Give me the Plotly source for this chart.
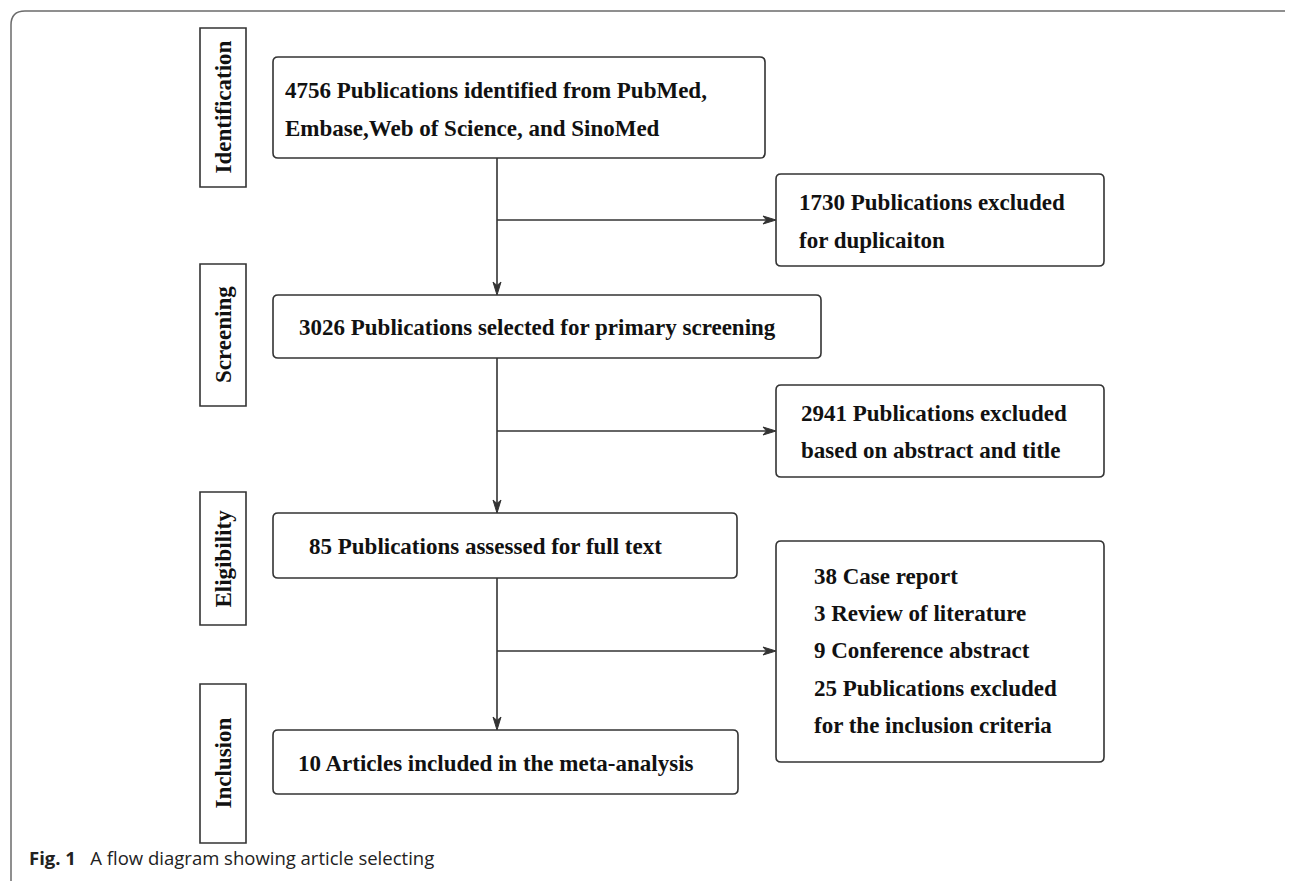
import plotly.graph_objects as go

# ---------------- data (texts / counts) ----------------
stages = ["Identification", "Screening", "Eligibility", "Inclusion"]
identified_n = 4756
duplicates_n = 1730
screened_n = 3026
excl_abstract_n = 2941
fulltext_n = 85
case_report_n = 38
review_n = 3
conference_n = 9
excl_criteria_n = 25
included_n = 10

box_texts = [
    [f"{identified_n} Publications identified from PubMed,", "Embase,Web of Science, and SinoMed"],
    [f"{duplicates_n} Publications excluded", "for duplicaiton"],
    [f"{screened_n} Publications selected for primary screening"],
    [f"{excl_abstract_n} Publications excluded", "based on abstract and title"],
    [f"{fulltext_n} Publications assessed for full text"],
    [f"{case_report_n} Case report", f"{review_n} Review of literature",
     f"{conference_n} Conference abstract", f"{excl_criteria_n} Publications excluded",
     "for the inclusion criteria"],
    [f"{included_n} Articles included in the meta-analysis"],
]
caption_bold = "Fig. 1"
caption_text = "A flow diagram showing article selecting"

# ---------------- layout geometry (screen pixels) ----------------
W, H = 1293, 881
OFF = 8  # page body margin: shift the coordinate frame so data px == screen px
box_geom = [
    (273, 57, 765, 158),
    (776, 174, 1104, 266),
    (273, 295, 821, 358),
    (776, 385, 1104, 477),
    (273, 513, 737, 578),
    (776, 541, 1104, 762),
    (273, 730, 738, 794),
]
text_x = [283, 797, 297, 799, 307, 812, 296]
text_y = [[90, 128], [202, 240], [327], [413, 450], [546], [576, 613, 650, 688, 725], [763]]
stage_geom = [(200, 28, 246, 187), (200, 264, 246, 406), (200, 492, 246, 625), (200, 684, 246, 843)]
spine_x = 497
branch_y = [220, 431, 651]
branch_x1 = 776

LINE = "#333333"
FONT_SERIF = "Liberation Serif, Times New Roman, serif"
FS = 23


def rounded_path(x0, y0, x1, y1, r):
    return (f"M{x0+r},{y0} L{x1-r},{y0} Q{x1},{y0} {x1},{y0+r} L{x1},{y1-r} "
            f"Q{x1},{y1} {x1-r},{y1} L{x0+r},{y1} Q{x0},{y1} {x0},{y1-r} "
            f"L{x0},{y0+r} Q{x0},{y0} {x0+r},{y0} Z")


shapes = []
annotations = []

# outer frame
shapes.append(dict(type="path", xref="x", yref="y",
                   path=rounded_path(11, 11, 1299, 900, 14),
                   line=dict(color="#6b6b6b", width=1.5), fillcolor="rgba(0,0,0,0)", layer="below"))

# main boxes
for (x0, y0, x1, y1) in box_geom:
    shapes.append(dict(type="path", xref="x", yref="y", path=rounded_path(x0, y0, x1, y1, 5),
                       line=dict(color=LINE, width=1.6), fillcolor="white"))

# stage boxes
for (x0, y0, x1, y1), name in zip(stage_geom, stages):
    shapes.append(dict(type="rect", xref="x", yref="y", x0=x0, y0=y0, x1=x1, y1=y1,
                       line=dict(color=LINE, width=1.6), fillcolor="rgba(0,0,0,0)"))
    annotations.append(dict(x=(x0 + x1) / 2, y=(y0 + y1) / 2, xref="x", yref="y",
                            text=f"<b>{name}</b>", showarrow=False, textangle=-90,
                            font=dict(family=FONT_SERIF, size=FS, color="#111111"),
                            xanchor="center", yanchor="middle"))

# box texts
for lines, tx, tys in zip(box_texts, text_x, text_y):
    for line, ty in zip(lines, tys):
        annotations.append(dict(x=tx, y=ty, xref="x", yref="y", text=f"<b>{line}</b>",
                                showarrow=False, xanchor="left", yanchor="middle",
                                font=dict(family=FONT_SERIF, size=FS, color="#111111")))

# connectors
AL, AW, AN = 13, 4, 9.5  # arrow length, half width, notch


def down_arrow(x, y):
    return f"M{x},{y} L{x-AW},{y-AL} L{x},{y-AN} L{x+AW},{y-AL} Z"


def right_arrow(x, y):
    return f"M{x},{y} L{x-AL},{y-AW} L{x-AN},{y} L{x-AL},{y+AW} Z"


segments = [(box_geom[0][3], box_geom[2][1]), (box_geom[2][3], box_geom[4][1]), (box_geom[4][3], box_geom[6][1])]
for (ya, yb), by in zip(segments, branch_y):
    shapes.append(dict(type="line", xref="x", yref="y", x0=spine_x, x1=spine_x, y0=ya, y1=yb - 4,
                       line=dict(color=LINE, width=1.6)))
    shapes.append(dict(type="path", xref="x", yref="y", path=down_arrow(spine_x, yb),
                       line=dict(color=LINE, width=1), fillcolor=LINE))
    shapes.append(dict(type="line", xref="x", yref="y", x0=spine_x, x1=branch_x1 - 4, y0=by, y1=by,
                       line=dict(color=LINE, width=1.6)))
    shapes.append(dict(type="path", xref="x", yref="y", path=right_arrow(branch_x1, by),
                       line=dict(color=LINE, width=1), fillcolor=LINE))

# caption
annotations.append(dict(x=27, y=857, xref="x", yref="y",
                        text=f"<b>{caption_bold}</b>\u00a0\u00a0\u00a0{caption_text}",
                        showarrow=False, xanchor="left", yanchor="middle",
                        font=dict(family="Open Sans, Noto Sans, sans-serif", size=18.5, color="#222222")))

fig = go.Figure()
fig.update_layout(
    width=W, height=H, margin=dict(l=0, r=0, t=0, b=0),
    paper_bgcolor="white", plot_bgcolor="white",
    xaxis=dict(range=[OFF, W + OFF], visible=False, fixedrange=True),
    yaxis=dict(range=[H + OFF, OFF], visible=False, fixedrange=True),
    shapes=shapes, annotations=annotations, showlegend=False,
)
fig.write_html("out.html")
